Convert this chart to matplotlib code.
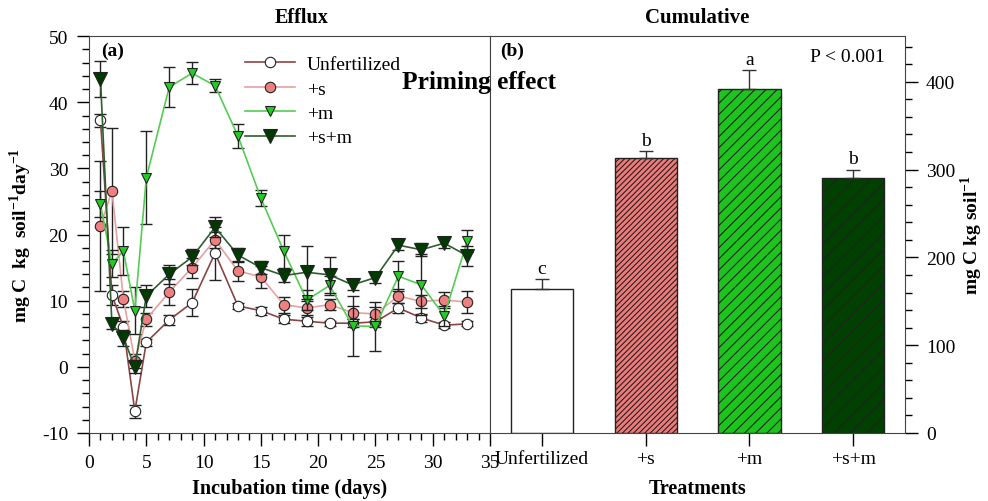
import matplotlib
matplotlib.use("Agg")
import matplotlib.pyplot as plt
from matplotlib.ticker import MultipleLocator

plt.rcParams['font.family'] = ['Liberation Serif', 'DejaVu Serif']
plt.rcParams['mathtext.fontset'] = 'custom'
plt.rcParams['mathtext.rm'] = 'Liberation Serif'
plt.rcParams['mathtext.bf'] = 'Liberation Serif:bold'
plt.rcParams['axes.unicode_minus'] = False
plt.rcParams['hatch.linewidth'] = 0.8

# ---- efflux data (a) ----
days = [1, 2, 3, 4, 5, 7, 9, 11, 13, 15, 17, 19, 21, 23, 25, 27, 29, 31, 33]

unf = [37.3, 10.9, 6.0, -6.7, 3.7, 7.1, 9.7, 17.2, 9.2, 8.5, 7.2, 6.9, 6.6, 6.6, 6.8, 8.9, 7.4, 6.3, 6.5]
unf_err = [1.0, 1.5, 1.0, 1.0, 0.5, 0.8, 2.0, 4.0, 0.5, 0.6, 0.6, 0.7, 0.4, 0.6, 0.8, 0.8, 0.6, 0.5, 0.4]

s = [21.3, 26.6, 10.3, 0.9, 7.2, 11.3, 15.0, 19.2, 14.5, 13.6, 9.4, 8.9, 9.4, 8.2, 8.0, 10.7, 9.9, 10.1, 9.8]
s_err = [9.8, 9.5, 1.2, 1.0, 1.0, 2.0, 1.5, 1.2, 1.5, 1.7, 1.2, 1.0, 0.8, 1.0, 1.0, 1.0, 1.0, 1.2, 1.6]

m = [24.6, 15.6, 17.5, 8.5, 28.6, 42.3, 44.4, 42.5, 34.9, 25.5, 17.5, 10.1, 12.3, 6.2, 6.1, 13.7, 12.4, 7.7, 19.0]
m_err = [2.0, 2.0, 3.6, 3.5, 7.0, 3.0, 1.7, 1.0, 1.8, 1.2, 2.5, 1.5, 1.5, 4.5, 3.7, 2.3, 4.6, 1.5, 1.7]

sm = [43.5, 6.5, 4.4, 0.0, 10.7, 14.0, 16.6, 21.1, 16.9, 15.0, 13.8, 14.3, 13.9, 12.4, 13.5, 18.4, 17.7, 18.7, 16.8]
sm_err = [2.7, 0.8, 1.2, 1.0, 1.7, 1.4, 1.2, 1.5, 1.0, 1.0, 1.0, 4.0, 2.7, 0.8, 0.8, 0.8, 1.0, 0.8, 1.5]

# ---- cumulative data (b) ----
treatments = ['Unfertilized', '+s', '+m', '+s+m']
cumulative = [164, 313, 392, 290]
cum_err = [11, 8, 21, 10]
letters = ['c', 'b', 'a', 'b']

fig = plt.figure(figsize=(9.88, 5.02), dpi=100)
ax1 = fig.add_axes([0.0901, 0.1355, 0.4059, 0.7905])
ax2 = fig.add_axes([0.496, 0.1355, 0.42, 0.7905])

series = [
    (unf, unf_err, 'Unfertilized', 'o', 'white', '#8B4545', 7.5),
    (s, s_err, '+s', 'o', '#F08080', '#E8A0A0', 7.5),
    (m, m_err, '+m', 'v', '#22CC22', '#55CC55', 6.5),
    (sm, sm_err, '+s+m', 'v', '#003A00', '#2E5E2E', 9.5),
]
for y, e, lab, mk, fc, lc, ms in series:
    ax1.errorbar(days, y, yerr=e, fmt='none', ecolor='#222222', elinewidth=1, capsize=4, capthick=1)
    ax1.plot(days, y, color=lc, lw=1.2, marker=mk, ms=ms, mfc=fc, mec='#222222', mew=0.8, label=lab)

ax1.set_xlim(0, 35)
ax1.set_ylim(-10, 50)
ax1.xaxis.set_major_locator(MultipleLocator(5))
ax1.xaxis.set_minor_locator(MultipleLocator(1))
ax1.yaxis.set_major_locator(MultipleLocator(10))
ax1.yaxis.set_minor_locator(MultipleLocator(2))
ax1.tick_params(which='major', direction='out', length=9, width=1, labelsize=14, pad=6)
ax1.tick_params(which='minor', direction='out', length=5, width=1)
ax1.tick_params(axis='x', pad=6)
ax1.set_xlabel('Incubation time (days)', fontsize=14.5, fontweight='bold', labelpad=5)
ax1.set_ylabel(r'mg C  kg  soil$^{\mathbf{-1}}$day$^{\mathbf{-1}}$', fontsize=14, fontweight='bold', labelpad=6)
ax1.set_title('Efflux', fontsize=14.5, fontweight='bold', pad=10, x=0.53)
ax1.text(0.03, 0.985, '(a)', transform=ax1.transAxes, fontsize=14, fontweight='bold', va='top')
ax1.legend(loc='upper left', bbox_to_anchor=(0.345, 0.995), frameon=False, fontsize=14,
           handlelength=2.6, labelspacing=0.35, handletextpad=0.6)
for sp in ax1.spines.values():
    sp.set_color('#444444')

# bars
colors = ['white', '#F07A7A', '#1DC41D', '#004000']
hatches = ['', '//////', '///', '//']
xpos = [1, 2, 3, 4]
ax2.bar(xpos, cumulative, width=0.6, color=colors, edgecolor='#222222', linewidth=1, hatch=hatches,
        yerr=[[0] * 4, cum_err], error_kw=dict(ecolor='#333333', elinewidth=1, capsize=5, capthick=1))
for x, v, e, l in zip(xpos, cumulative, cum_err, letters):
    ax2.text(x, v + e + 3, l, ha='center', va='bottom', fontsize=14)
ax2.set_xlim(0.5, 4.5)
ax2.set_ylim(0, 452)
ax2.set_xticks(xpos)
ax2.set_xticklabels(treatments)
ax2.yaxis.tick_right()
ax2.yaxis.set_label_position('right')
ax2.yaxis.set_major_locator(MultipleLocator(100))
ax2.yaxis.set_minor_locator(MultipleLocator(20))
ax2.tick_params(which='major', direction='out', length=9, width=1, labelsize=14, pad=6)
ax2.tick_params(which='minor', direction='out', length=5, width=1)
ax2.tick_params(axis='x', pad=3)
ax2.set_xlabel('Treatments', fontsize=14.5, fontweight='bold', labelpad=8)
ax2.set_ylabel(r'mg C kg soil$^{\mathbf{-1}}$', fontsize=14, fontweight='bold', rotation=90, labelpad=2)
ax2.set_title('Cumulative', fontsize=15, fontweight='bold', pad=10)
ax2.text(0.025, 0.985, '(b)', transform=ax2.transAxes, fontsize=14, fontweight='bold', va='top')
ax2.text(0.95, 0.97, 'P < 0.001', transform=ax2.transAxes, fontsize=14, ha='right', va='top')
for sp in ax2.spines.values():
    sp.set_color('#444444')

fig.text(0.407, 0.835, 'Priming effect', fontsize=18.3, fontweight='bold', va='center', ha='left')

fig.savefig('out.png', dpi=100)
